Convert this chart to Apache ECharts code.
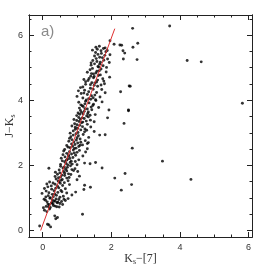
<!DOCTYPE html>
<html><head><meta charset="utf-8">
<script src="https://cdn.jsdelivr.net/npm/echarts@6/dist/echarts.min.js"></script>
<style>html,body{margin:0;padding:0;background:#fff}#c{width:266px;height:266px}</style>
</head><body><div id="c"></div>
<script>
var xMajor = [0, 2, 4, 6];
var xMinor = [-0.5, 0.5, 1, 1.5, 2.5, 3, 3.5, 4.5, 5, 5.5];
var yMajor = [0, 2, 4, 6];
var yMinor = [0.5, 1, 1.5, 2.5, 3, 3.5, 4.5, 5, 5.5, 6.5];
var panelLabel = 'a)';
var fitLine = [[-0.06, 0.0], [2.1, 6.2]];
var stars = [
[-0.09,0.14],[0.18,0.17],[0.23,0.11],[0.14,0.19],[0.38,0.36],[0.43,0.40],[0.35,0.45],[1.16,0.50],[0.05,0.62],[0.12,0.58],[0.02,0.70],[0.20,0.66],
[0.10,0.74],[0.22,0.71],[0.31,0.77],[0.41,0.73],[0.15,0.81],[0.27,0.86],[0.36,0.75],[0.50,0.83],[0.19,0.79],[0.33,0.91],[0.44,0.87],[0.58,0.80],[0.08,0.93],[0.25,0.84],[0.39,0.97],[0.66,0.92],[0.13,0.88],[0.30,0.82],[0.47,0.95],[0.55,0.89],[0.21,0.99],[0.36,0.90],[0.74,0.98],[0.04,0.96],[0.42,0.85],[0.28,0.94],[0.62,0.96],[0.17,0.73],[0.48,0.72],
[0.16,1.07],[0.50,1.02],[0.35,1.12],[0.85,1.09],[0.22,1.01],[0.44,1.17],[0.60,1.05],[-0.02,1.14],[0.10,1.21],[0.31,1.04],[0.53,1.23],[0.96,1.18],[0.26,1.27],[0.40,1.08],[0.70,1.15],[0.05,1.29],[0.18,1.16],[0.47,1.31],[1.20,1.26],[0.33,1.22],[0.58,1.38],[0.12,1.43],[0.38,1.30],[1.39,1.33],[0.25,1.37],[0.51,1.45],[0.66,1.28],[1.22,1.39],[0.20,1.49],[0.43,1.36],[0.30,1.46],[0.78,1.41],[0.56,1.19],[0.36,1.42],[0.15,1.34],[0.48,1.50],[0.09,1.03],[0.63,1.47],[0.28,1.11],
[0.39,1.58],[0.74,1.53],[0.52,1.64],[1.00,1.56],[0.45,1.52],[0.64,1.69],[0.57,1.57],[0.82,1.72],[0.36,1.66],[0.70,1.61],[0.50,1.77],[1.07,1.67],[0.61,1.81],[0.77,1.63],[0.43,1.73],[0.67,1.88],[0.90,1.84],[0.56,1.70],[0.72,1.94],[0.48,1.86],[0.64,1.76],[1.02,1.81],[0.81,1.99],[0.59,1.92],[0.37,1.79],[0.70,1.83],[0.94,1.90],[0.52,1.97],[0.75,1.74],[0.63,1.95],[0.85,1.87],[0.46,1.62],[0.18,1.91],[0.54,1.54],
[0.68,2.06],[1.00,2.02],[0.57,2.14],[0.80,2.09],[1.22,2.07],[1.38,2.05],[0.72,2.19],[0.52,2.03],[0.88,2.24],[0.64,2.11],[1.05,2.17],[0.76,2.28],[0.59,2.33],[0.83,2.13],[0.70,2.37],[0.96,2.31],[0.54,2.22],[0.78,2.42],[0.65,2.26],[0.89,2.47],[1.17,2.29],[0.73,2.01],[0.61,2.44],[0.84,2.35],[1.00,2.40],[0.69,2.16],[0.79,2.21],[1.25,2.41],[0.92,2.38],[0.64,2.49],[0.75,2.32],[1.07,2.46],[0.86,2.04],[1.30,2.51],[0.95,2.12],
[0.74,2.56],[0.97,2.53],[0.84,2.66],[0.70,2.61],[1.05,2.58],[0.91,2.72],[0.80,2.54],[1.16,2.63],[0.98,2.78],[1.30,2.67],[1.33,2.70],[0.76,2.74],[0.87,2.59],[1.09,2.81],[0.94,2.64],[0.82,2.88],[1.24,2.76],[1.02,2.69],[0.89,2.93],[0.78,2.83],[1.11,2.71],[0.97,2.97],[1.34,2.86],[0.85,2.79],[1.04,2.91],[0.92,2.52],[1.18,2.95],[0.80,2.99],[1.82,2.94],[1.00,2.85],[1.09,2.62],[1.66,2.93],
[0.89,3.06],[1.50,3.04],[1.03,3.01],[1.23,3.12],[0.95,3.17],[1.11,3.09],[0.85,3.21],[1.30,3.26],[1.02,3.14],[1.17,3.33],[0.93,3.28],[1.08,3.23],[1.40,3.18],[0.99,3.38],[1.21,3.44],[1.13,3.31],[2.37,3.29],[0.91,3.41],[1.27,3.36],[1.05,3.47],[1.16,3.19],[1.50,3.34],[1.00,3.25],[1.33,3.49],[1.10,3.42],[1.22,3.03],[0.95,3.11],[1.89,3.46],[1.39,3.39],[1.15,3.46],[1.06,3.35],[1.28,3.08],
[1.18,3.58],[0.99,3.53],[1.33,3.64],[1.10,3.69],[1.53,3.56],[1.23,3.74],[1.03,3.61],[1.41,3.79],[1.15,3.83],[2.50,3.68],[1.93,3.70],[1.28,3.52],[1.07,3.76],[1.48,3.88],[1.21,3.66],[1.35,3.92],[1.11,3.86],[1.63,3.78],[1.25,3.97],[1.43,3.71],[1.05,3.94],[1.18,3.81],[1.31,3.59],[1.55,3.99],[1.13,3.63],[1.38,3.54],[1.23,3.89],[1.73,3.95],[1.08,3.57],[1.46,3.84],[1.30,3.73],
[1.17,4.07],[1.40,4.03],[1.00,4.12],[1.52,4.16],[1.27,4.01],[1.67,4.10],[1.12,4.21],[1.34,4.26],[1.47,4.08],[1.22,4.31],[1.04,4.29],[1.57,4.24],[1.39,4.37],[1.82,4.23],[2.27,4.26],[1.17,4.41],[1.30,4.18],[1.50,4.46],[1.72,4.33],[1.25,4.49],[1.42,4.14],[1.10,4.39],[1.60,4.43],[1.34,4.05],[2.55,4.43],[1.47,4.34],[1.20,4.22],[1.70,4.47],[1.39,4.48],[1.54,4.02],
[1.25,4.57],[1.43,4.54],[1.60,4.62],[1.80,4.51],[1.35,4.67],[1.50,4.73],[1.20,4.64],[1.68,4.78],[1.42,4.82],[1.57,4.56],[1.30,4.86],[1.95,4.71],[1.48,4.69],[1.65,4.91],[1.38,4.94],[1.55,4.84],[1.75,4.66],[1.45,4.98],[1.62,4.76],[1.32,4.61],[1.85,4.87],[1.52,4.53],[1.70,4.96],[1.40,4.74],[1.58,4.89],[1.78,4.59],[1.48,4.81],
[1.61,5.04],[1.86,5.01],[1.51,5.12],[1.68,5.17],[1.41,5.08],[1.78,5.23],[1.56,5.28],[1.41,5.15],[1.94,5.16],[1.66,5.32],[1.51,5.36],[1.76,5.06],[1.61,5.41],[1.89,5.27],[1.46,5.22],[1.71,5.44],[1.58,5.19],[1.81,5.38],[1.66,5.11],[1.96,5.40],[1.54,5.47],[1.74,5.31],[1.84,5.49],[1.63,5.02],
[1.59,5.57],[1.70,5.52],[1.82,5.61],[1.45,5.54],[1.65,5.66],[1.77,5.59],[1.88,5.53],[1.55,5.63],[1.96,5.83],[2.08,5.72],[2.25,5.70],[2.30,5.69],[2.34,5.52],[2.39,5.45],[2.35,5.27],
[2.62,6.21],[2.63,5.63],[2.77,5.75],[2.75,5.25],[3.70,6.28],[4.21,5.22],[4.62,5.18],[5.82,3.91],[3.49,2.13],[4.32,1.57],[2.61,2.53],[2.40,1.75],[2.59,1.41],[2.10,1.61],[2.29,1.24],[1.73,1.92],[1.54,2.09],[2.50,3.70],[2.52,4.44]
];

var chart = echarts.init(document.getElementById('c'), null, {renderer: 'canvas'});
var X0 = -0.4, X1 = 6.1, Y0 = -0.2, Y1 = 6.62;
var lineC = '#222';
function xa(pos, ticks, len, labels, extra) {
  var o = {type: 'value', position: pos, min: X0, max: X1, gridIndex: 0,
    axisLine: {show: true, onZero: false, lineStyle: {color: lineC, width: 1}},
    axisTick: {show: true, inside: true, length: len, customValues: ticks, lineStyle: {color: lineC, width: 1}},
    axisLabel: labels ? {show: true, customValues: xMajor, color: '#333', fontSize: 9, fontFamily: 'Liberation Sans', margin: 6} : {show: false},
    splitLine: {show: false}};
  return Object.assign(o, extra || {});
}
function ya(pos, ticks, len, labels, extra) {
  var o = {type: 'value', position: pos, min: Y0, max: Y1, gridIndex: 0,
    axisLine: {show: true, onZero: false, lineStyle: {color: lineC, width: 1}},
    axisTick: {show: true, inside: true, length: len, customValues: ticks, lineStyle: {color: lineC, width: 1}},
    axisLabel: labels ? {show: true, customValues: yMajor, color: '#333', fontSize: 9, fontFamily: 'Liberation Sans', margin: 6} : {show: false},
    splitLine: {show: false}};
  return Object.assign(o, extra || {});
}
var serif = 'Liberation Serif';
chart.setOption({
  animation: false,
  backgroundColor: '#fff',
  grid: {left: 29, right: 14, top: 15, bottom: 29, containLabel: false, outerBoundsMode: 'none'},
  xAxis: [
    xa('bottom', xMajor, 5, true, {
      name: '{a|K}{b|s}{a|\u2212[7]}', nameLocation: 'middle', nameGap: 15, nameMoveOverlap: false,
      nameTextStyle: {rich: {a: {fontFamily: serif, fontSize: 12, color: '#333'}, b: {fontFamily: serif, fontSize: 8, color: '#333', padding: [6, 0, 0, 0]}}}
    }),
    xa('bottom', xMinor, 2.5, false),
    xa('top', xMajor, 5, false),
    xa('top', xMinor, 2.5, false)
  ],
  yAxis: [
    ya('left', yMajor, 5, true, {
      name: '{a|J\u2212K}{b|s}', nameLocation: 'middle', nameGap: 12, nameRotate: 90, nameMoveOverlap: false,
      nameTextStyle: {rich: {a: {fontFamily: serif, fontSize: 12, color: '#333'}, b: {fontFamily: serif, fontSize: 8, color: '#333', padding: [6, 0, 0, 0]}}}
    }),
    ya('left', yMinor, 2.5, false),
    ya('right', yMajor, 5, false),
    ya('right', yMinor, 2.5, false)
  ],
  graphic: [{type: 'text', left: 41, top: 24, style: {text: panelLabel, fill: '#8a8a8a', font: '15px "Liberation Sans"'}}],
  series: [
    {type: 'scatter', xAxisIndex: 0, yAxisIndex: 0, data: stars, symbol: 'circle', symbolSize: 2.9,
     itemStyle: {color: '#000'}, silent: true, z: 3},
    {type: 'line', xAxisIndex: 0, yAxisIndex: 0, data: fitLine, symbol: 'none',
     lineStyle: {color: '#e03030', width: 1}, silent: true, z: 4}
  ]
});
</script></body></html>
